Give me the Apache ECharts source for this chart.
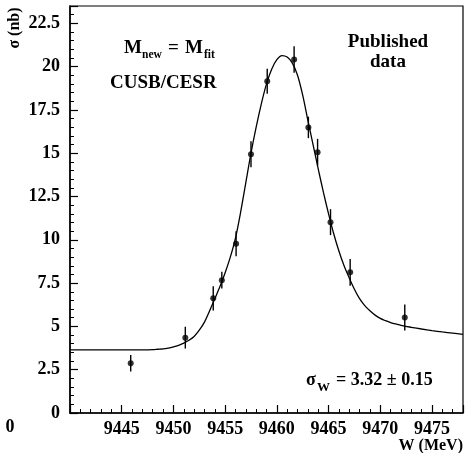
<!DOCTYPE html>
<html>
<head>
<meta charset="utf-8">
<script src="https://cdn.jsdelivr.net/npm/echarts@6/dist/echarts.min.js"></script>
<style>
  html, body { margin: 0; padding: 0; background: #fff; }
  #chart { width: 466px; height: 453px; }
</style>
</head>
<body>
<div id="chart"></div>
<script>
// measured points (W in MeV, sigma in nb)
const wPoints = [9445.87, 9451.15, 9453.85, 9454.68, 9456.06, 9457.5, 9459.07, 9461.67, 9463.05, 9463.94, 9465.19, 9467.09, 9472.37]
const sigma = [2.87, 4.35, 6.62, 7.67, 9.77, 14.94, 19.16, 20.41, 16.49, 15.06, 11.02, 8.12, 5.52]
const sigmaErr = [0.48, 0.63, 0.7, 0.48, 0.72, 0.75, 0.72, 0.77, 0.62, 0.77, 0.75, 0.77, 0.75]

// fitted curve
const fitW = [9440, 9442, 9444, 9446, 9447, 9448, 9448.5,
  9449, 9449.5, 9450, 9450.5, 9451, 9451.5, 9452, 9452.5, 9453, 9453.5, 9454, 9454.5, 9455, 9455.5,
  9456, 9456.5, 9457, 9457.5, 9458, 9458.5, 9459, 9459.5, 9460, 9460.5, 9461, 9461.5, 9462, 9462.5,
  9463, 9463.5, 9464, 9464.5, 9465, 9465.5, 9466, 9466.5, 9467, 9467.5, 9468, 9468.5, 9469, 9469.5,
  9470, 9470.5, 9471, 9471.5, 9472, 9473, 9474, 9475, 9476, 9477, 9478]
const fitS = [3.64, 3.64, 3.64, 3.64, 3.645, 3.66, 3.68,
  3.7, 3.75, 3.82, 3.91, 4.03, 4.2, 4.42, 4.78, 5.25, 5.9, 6.6, 7.3, 8.1, 9.0,
  10.1, 11.6, 13.3, 15.0, 16.5, 17.85, 19.0, 19.85, 20.4, 20.64, 20.55, 20.2, 19.5, 18.35,
  16.9, 15.5, 14.1, 12.75, 11.5, 10.35, 9.35, 8.5, 7.8, 7.15, 6.6, 6.2, 5.9, 5.65,
  5.46, 5.33, 5.22, 5.14, 5.06, 4.95, 4.85, 4.76, 4.68, 4.61, 4.54]

const xTicks = [9445, 9450, 9455, 9460, 9465, 9470, 9475]
const yTicks = [0, 2.5, 5, 7.5, 10, 12.5, 15, 17.5, 20, 22.5]

const FONT = 'Liberation Serif'

const chart = echarts.init(document.getElementById('chart'))

const txt = (x, y, text, size, extra) => ({
  type: 'text',
  x, y,
  style: Object.assign({
    text,
    font: `bold ${size}px "${FONT}"`,
    fill: '#000',
    textVerticalAlign: 'middle'
  }, extra || {})
})

const labelStyle = { color: '#000', fontFamily: FONT, fontWeight: 'bold', fontSize: 18 }

const option = {
  animation: false,
  grid: {
    left: 70, right: 3, top: 6, bottom: 40,
    show: true,
    borderColor: '#000',
    borderWidth: 1.2
  },
  xAxis: [
    {
      type: 'value',
      min: 9440, max: 9478, interval: 5,
      position: 'bottom',
      axisLine: { show: true, onZero: false, lineStyle: { color: '#000', width: 1.5 } },
      axisTick: { show: true, inside: true, length: 8, lineStyle: { color: '#000', width: 1.2 } },
      axisLabel: Object.assign({
        show: true,
        margin: 7,
        customValues: xTicks,
        formatter: v => String(v)
      }, labelStyle),
      splitLine: { show: false }
    },
    {
      type: 'value',
      min: 9440, max: 9478, interval: 1,
      position: 'bottom',
      axisLine: { show: false, onZero: false },
      axisTick: { show: true, inside: true, length: 4, lineStyle: { color: '#000', width: 1 } },
      axisLabel: { show: false },
      splitLine: { show: false }
    }
  ],
  yAxis: [
    {
      type: 'value',
      min: 0, max: 23.5, interval: 2.5,
      position: 'left',
      axisLine: { show: true, onZero: false, lineStyle: { color: '#000', width: 1.5 } },
      axisTick: { show: true, inside: true, length: 8, lineStyle: { color: '#000', width: 1.2 } },
      axisLabel: Object.assign({
        show: true,
        margin: 10,
        customValues: yTicks,
        formatter: v => String(v)
      }, labelStyle),
      splitLine: { show: false }
    },
    {
      type: 'value',
      min: 0, max: 23.5, interval: 0.5,
      position: 'left',
      axisLine: { show: false, onZero: false },
      axisTick: { show: true, inside: true, length: 4, lineStyle: { color: '#000', width: 1 } },
      axisLabel: { show: false },
      splitLine: { show: false }
    }
  ],
  series: [
    {
      // fit curve
      type: 'line',
      data: fitW.map((w, i) => [w, fitS[i]]),
      smooth: 0.3,
      symbol: 'none',
      lineStyle: { color: '#000', width: 1.3 },
      z: 2
    },
    {
      // error bars
      type: 'custom',
      data: wPoints.map((w, i) => [w, sigma[i] - sigmaErr[i], sigma[i] + sigmaErr[i]]),
      renderItem: function (params, api) {
        const lo = api.coord([api.value(0), api.value(1)])
        const hi = api.coord([api.value(0), api.value(2)])
        return {
          type: 'line',
          shape: { x1: lo[0], y1: lo[1], x2: hi[0], y2: hi[1] },
          style: { stroke: '#000', lineWidth: 1.4 }
        }
      },
      z: 3
    },
    {
      type: 'scatter',
      data: wPoints.map((w, i) => [w, sigma[i]]),
      symbol: 'circle',
      symbolSize: 6,
      itemStyle: { color: '#000' },
      z: 4
    }
  ],
  graphic: [
    txt(15, 28, 'σ (nb)', 16, { textAlign: 'center' }),
    txt(10, 427, '0', 18, { textAlign: 'center' }),
    txt(463, 446, 'W (MeV)', 16, { textAlign: 'right' }),
    txt(124, 48, 'M', 19),
    txt(142, 55, 'new', 11.5),
    txt(168, 48, '=', 19),
    txt(185, 48, 'M', 19),
    txt(204, 55, 'fit', 11.5),
    txt(110, 83, 'CUSB/CESR', 19),
    txt(388, 42, 'Published', 19, { textAlign: 'center' }),
    txt(388, 62, 'data', 19, { textAlign: 'center' }),
    txt(306, 380, 'σ', 18),
    txt(317, 388, 'W', 13),
    txt(336, 380, '= 3.32 ± 0.15', 18)
  ]
}

// rotate the y-axis title
option.graphic[0].rotation = Math.PI / 2

chart.setOption(option)
</script>
</body>
</html>
